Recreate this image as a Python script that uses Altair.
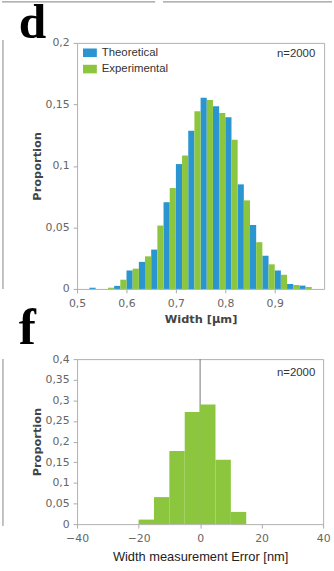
import altair as alt
import pandas as pd

# ---------------- data ----------------
# panel d: histogram of widths, bins of 0.025 um, two series side by side
bin_starts_d = [0.525, 0.55, 0.575, 0.6, 0.625, 0.65, 0.675, 0.7, 0.725,
                0.75, 0.775, 0.8, 0.825, 0.85, 0.875, 0.9, 0.925, 0.95]
theoretical = [0.001, 0.0, 0.0025, 0.015, 0.022, 0.032, 0.0705, 0.1015, 0.1285,
               0.1555, 0.1485, 0.1395, 0.085, 0.052, 0.027, 0.015, 0.004, 0.0027]
experimental = [0.0, 0.001, 0.0075, 0.0165, 0.0265, 0.0515, 0.082, 0.1085, 0.1445,
                0.1535, 0.143, 0.1212, 0.072, 0.038, 0.020, 0.0115, 0.0032, 0.0016]
bin_width_d = 0.025
series_names = ["Theoretical", "Experimental"]
series_colors = ["#2B95D0", "#8CC63F"]

# panel f: histogram of width measurement error, bins of 5 nm
err_bin_starts = [-20, -15, -10, -5, 0, 5, 10]
err_props = [0.011, 0.0655, 0.177, 0.272, 0.290, 0.156, 0.0296]
err_bin_width = 5

d_x_ticks = [0.5, 0.6, 0.7, 0.8, 0.9]
d_y_ticks = [0, 0.05, 0.1, 0.15, 0.2]
f_x_ticks = [-40, -30, -20, -10, 0, 10, 20, 30, 40]
f_y_ticks = [0, 0.05, 0.1, 0.15, 0.2, 0.25, 0.3, 0.35, 0.4]
n_label = "n=2000"

# ---------------- tables ----------------
rows = []
half = bin_width_d / 2
for i, name in enumerate(series_names):
    vals = theoretical if i == 0 else experimental
    for s, v in zip(bin_starts_d, vals):
        rows.append({"series": name, "x0": s + i * half, "x1": s + (i + 1) * half, "p": v})
df_d = pd.DataFrame(rows)

df_f = pd.DataFrame({
    "x0": err_bin_starts,
    "x1": [s + err_bin_width for s in err_bin_starts],
    "p": err_props,
})

comma = "replace(format(datum.value, ''), '.', ',')"
AX_FONT = "DejaVu Sans"
ANN_FONT = "Liberation Sans"

# ---------------- panel d ----------------
W1, H1 = 250, 249
xs_d = alt.Scale(domain=[0.5, 1.0], nice=False, zero=False)
ys_d = alt.Scale(domain=[0, 0.2], nice=False)

bars_d = alt.Chart(df_d).mark_rect().encode(
    x=alt.X("x0:Q", scale=xs_d,
            axis=alt.Axis(values=d_x_ticks, labelExpr=comma, title="Width [μm]",
                          labelPadding=5, titlePadding=5)),
    x2="x1:Q",
    y=alt.Y("p:Q", scale=ys_d,
            axis=alt.Axis(values=d_y_ticks, labelExpr=comma, title="Proportion",
                          titlePadding=3)),
    y2=alt.datum(0),
    color=alt.Color("series:N",
                    scale=alt.Scale(domain=series_names, range=series_colors),
                    legend=alt.Legend(title=None, orient="none", legendX=6, legendY=3,
                                      symbolType="M-1,-0.62L1,-0.62L1,0.62L-1,0.62Z",
                                      symbolSize=196, symbolStrokeWidth=0,
                                      labelFont=ANN_FONT, labelFontSize=11.5,
                                      labelColor="#333", rowPadding=3.5,
                                      labelOffset=5, padding=0)),
)

one = pd.DataFrame({"t": [n_label]})
n_d = alt.Chart(one).mark_text(font=ANN_FONT, fontSize=11.5, color="#333",
                               align="right", baseline="middle").encode(
    text="t:N", x=alt.value(W1 - 9), y=alt.value(11))

letter_d = alt.Chart(pd.DataFrame({"t": ["d"]})).mark_text(
    font="Liberation Serif", fontWeight="bold", fontSize=50, color="#000",
    align="left", baseline="alphabetic").encode(
    text="t:N", x=alt.value(-59), y=alt.value(-5))

frame_col = "#9a9a9a"
top_line1 = alt.Chart(one).mark_rule(color=frame_col, strokeWidth=1.5).encode(
    x=alt.value(-76), x2=alt.value(79), y=alt.value(-41.5))
top_line2 = alt.Chart(one).mark_rule(color=frame_col, strokeWidth=1.5).encode(
    x=alt.value(87), x2=alt.value(258), y=alt.value(-41.5))
left_line_d = alt.Chart(one).mark_rule(color=frame_col, strokeWidth=1.2).encode(
    x=alt.value(-75), y=alt.value(-3), y2=alt.value(H1))

panel_d = alt.layer(top_line1, top_line2, left_line_d, bars_d, n_d, letter_d).properties(
    width=W1, height=H1)

# ---------------- panel f ----------------
W2, H2 = 249, 167
xs_f = alt.Scale(domain=[-40, 40], nice=False)
ys_f = alt.Scale(domain=[0, 0.4], nice=False)

rule_f = alt.Chart(pd.DataFrame({"x": [0]})).mark_rule(color="#777", strokeWidth=1).encode(
    x=alt.X("x:Q", scale=xs_f))

bars_f = alt.Chart(df_f).mark_rect(color="#8CC63F").encode(
    x=alt.X("x0:Q", scale=xs_f,
            axis=alt.Axis(values=f_x_ticks, title="Width measurement Error [nm]",
                          titleFont=ANN_FONT, titleFontWeight="normal",
                          titleFontSize=13, titleColor="#222",
                          labelPadding=5, titlePadding=7)),
    x2="x1:Q",
    y=alt.Y("p:Q", scale=ys_f,
            axis=alt.Axis(values=f_y_ticks, labelExpr=comma, title="Proportion",
                          titlePadding=3)),
    y2=alt.datum(0),
)

n_f = alt.Chart(one).mark_text(font=ANN_FONT, fontSize=11.5, color="#333",
                               align="right", baseline="middle").encode(
    text="t:N", x=alt.value(W2 - 8), y=alt.value(14))

letter_f = alt.Chart(pd.DataFrame({"t": ["f"]})).mark_text(
    font="Liberation Serif", fontWeight="bold", fontSize=52, color="#000",
    align="left", baseline="alphabetic").encode(
    text="t:N", x=alt.value(-59), y=alt.value(-15))

left_line_f = alt.Chart(one).mark_rule(color=frame_col, strokeWidth=1.2).encode(
    x=alt.value(-75), y=alt.value(0), y2=alt.value(H2 + 2))

panel_f = alt.layer(left_line_f, rule_f, bars_f, n_f, letter_f).properties(
    width=W2, height=H2)

chart = alt.vconcat(panel_d, panel_f, spacing=71, bounds="flush").resolve_scale(
    x="independent", y="independent", color="independent"
).properties(
    padding={"left": 0, "top": -6, "right": 0, "bottom": 0}
).configure_view(
    stroke="#b0b0b0", strokeWidth=1
).configure_axis(
    labelFont=AX_FONT, labelFontSize=11, labelColor="#666", labelFlush=False,
    grid=False, domain=False, tickColor="#aaa", tickSize=4, labelPadding=4,
    titleFont=AX_FONT, titleFontSize=11.5, titleFontWeight="bold", titleColor="#444"
)

chart.save("out.html", embed_options={"renderer": "svg", "actions": False})
